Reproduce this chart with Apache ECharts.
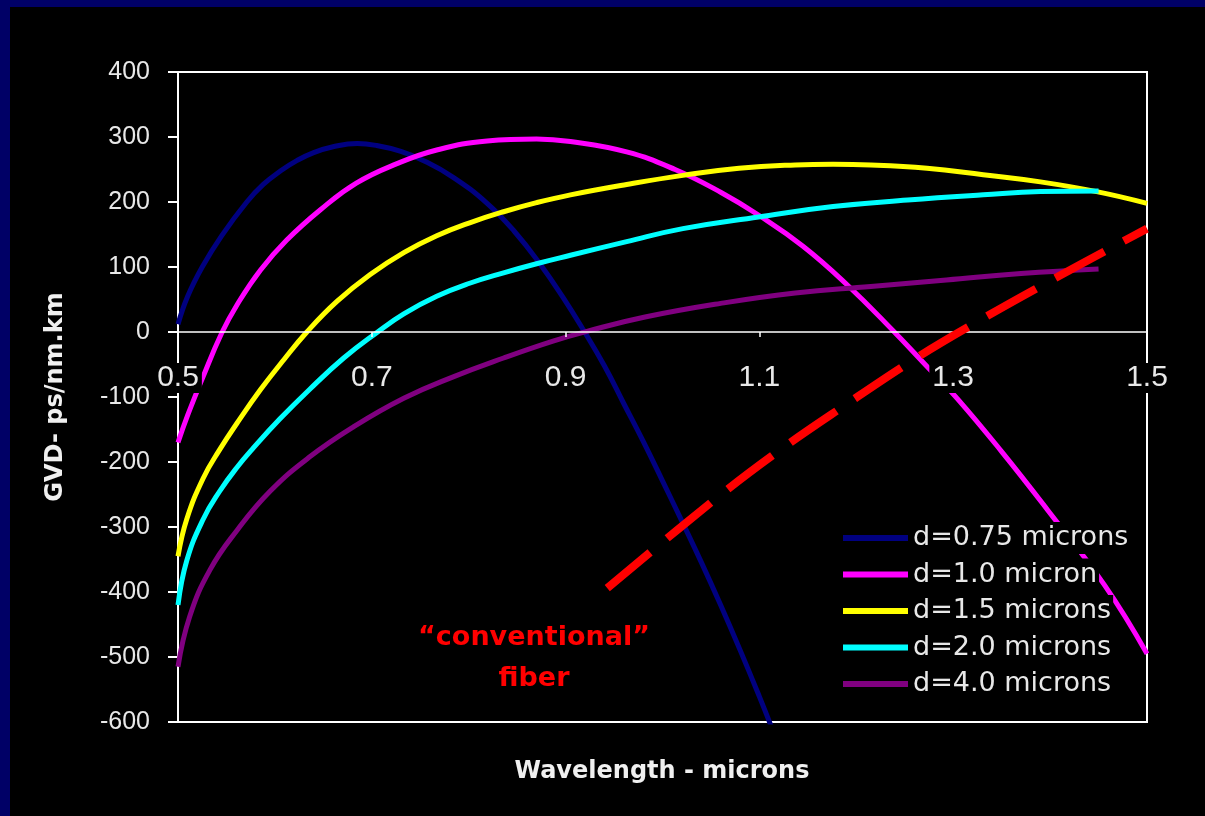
<!DOCTYPE html>
<html>
<head>
<meta charset="utf-8">
<script src="https://cdn.jsdelivr.net/npm/echarts@6/dist/echarts.min.js"></script>
<style>
  html, body { margin: 0; padding: 0; background: #000066; width: 1205px; height: 816px; overflow: hidden; }
  #chart { position: absolute; left: 10px; top: 7px; width: 1195px; height: 809px; background: #000; }
</style>
</head>
<body>
<div id="chart"></div>
<script>
// Group-velocity dispersion of a guide vs. wavelength, for several core diameters,
// with the dispersion of conventional fibre overlaid as a dashed red curve.

const seriesNames  = ['d=0.75 microns', 'd=1.0 micron', 'd=1.5 microns', 'd=2.0 microns', 'd=4.0 microns'];
const seriesColors = ['#000080', '#ff00ff', '#ffff00', '#00ffff', '#800080'];

// wavelength (microns) / GVD (ps/nm.km)
const wlD075  = [0.500, 0.510, 0.525, 0.545, 0.571, 0.588, 0.606, 0.623, 0.640, 0.660, 0.685, 0.705, 0.730, 0.753, 0.784, 0.819, 0.847, 0.874, 0.897, 0.918, 0.940, 0.960, 0.980, 1.000, 1.020, 1.040, 1.060, 1.080, 1.100, 1.112];
const gvdD075 = [12, 55, 100, 148, 200, 227, 248, 264, 276, 285, 290, 287, 278, 264, 238, 198, 155, 104, 54, 4, -52, -110, -168, -229, -291, -354, -420, -489, -561, -606];

const wlD10  = [0.500, 0.510, 0.525, 0.545, 0.561, 0.585, 0.612, 0.647, 0.684, 0.726, 0.767, 0.819, 0.870, 0.905, 0.963, 1.013, 1.060, 1.099, 1.145, 1.191, 1.238, 1.273, 1.304, 1.350, 1.397, 1.456, 1.500];
const gvdD10 = [-170, -128, -72, -2, 42, 95, 141, 188, 229, 259, 280, 294, 297, 293, 277, 250, 215, 180, 132, 72, 2, -53, -102, -184, -273, -389, -495];

const wlD15  = [0.500, 0.509, 0.526, 0.543, 0.561, 0.585, 0.609, 0.633, 0.664, 0.698, 0.733, 0.767, 0.801, 0.836, 0.870, 0.905, 0.963, 1.021, 1.079, 1.137, 1.176, 1.215, 1.273, 1.331, 1.390, 1.448, 1.500];
const gvdD15 = [-345, -288, -225, -181, -140, -89, -43, 0, 47, 88, 122, 148, 168, 185, 199, 211, 227, 241, 252, 257, 258, 257, 252, 242, 231, 216, 198];

const wlD20  = [0.500, 0.509, 0.526, 0.543, 0.561, 0.578, 0.605, 0.636, 0.671, 0.705, 0.733, 0.767, 0.801, 0.836, 0.870, 0.905, 0.963, 1.021, 1.099, 1.176, 1.253, 1.331, 1.390, 1.450];
const gvdD20 = [-420, -352, -288, -245, -208, -178, -134, -88, -40, -1, 28, 55, 75, 91, 105, 118, 139, 159, 177, 193, 203, 211, 216, 217];

const wlD40  = [0.500, 0.512, 0.533, 0.561, 0.595, 0.636, 0.681, 0.733, 0.784, 0.836, 0.887, 0.922, 0.982, 1.060, 1.137, 1.215, 1.293, 1.370, 1.450];
const gvdD40 = [-515, -438, -366, -305, -245, -192, -146, -102, -69, -40, -14, 1, 23, 44, 60, 70, 80, 90, 97];

const wlFiber  = [0.943, 1.052, 1.118, 1.188, 1.262, 1.324, 1.397, 1.471, 1.500];
const gvdFiber = [-394, -260, -185, -113, -40, 15, 76, 136, 159];

// axis ranges
const xMin = 0.5, xMax = 1.5, xStep = 0.2;
const yMin = -600, yMax = 400, yStep = 100;

const pairs = (xs, ys) => xs.map((x, i) => [x, ys[i]]);

const curves = [
  pairs(wlD075, gvdD075),
  pairs(wlD10, gvdD10),
  pairs(wlD15, gvdD15),
  pairs(wlD20, gvdD20),
  pairs(wlD40, gvdD40)
];

const labelColor = '#e8e8e8';

const series = curves.map((data, i) => ({
  name: seriesNames[i],
  type: 'line',
  data: data,
  smooth: 0.45,
  showSymbol: false,
  symbol: 'none',
  color: seriesColors[i],
  lineStyle: { color: seriesColors[i], width: 5 },
  z: 2 + i * 0.01
}));

series.push({
  name: 'conventional fiber',
  type: 'line',
  data: pairs(wlFiber, gvdFiber),
  smooth: 0.4,
  showSymbol: false,
  symbol: 'none',
  color: '#ff0000',
  lineStyle: { color: '#ff0000', width: 8, type: [56, 22], cap: 'butt' },
  z: 5
});

const chart = echarts.init(document.getElementById('chart'), null, { renderer: 'canvas' });

// plot box in container pixels
const gridTop = 65, gridBottom = 94, chartH = 809;
// the tick labels sit just under the zero line, 31px below it
const zeroLineY = gridTop + (yMax / (yMax - yMin)) * (chartH - gridTop - gridBottom);
const xLabelMargin = (zeroLineY + 31) - (chartH - gridBottom);

chart.setOption({
  animation: false,
  backgroundColor: '#000',
  grid: {
    left: 168, right: 58, top: gridTop, bottom: gridBottom,
    show: true, borderColor: '#ffffff', borderWidth: 2, backgroundColor: '#000'
  },
  xAxis: {
    type: 'value', min: xMin, max: xMax, interval: xStep, z: 3,
    axisLine: { show: true, onZero: true, lineStyle: { color: '#ffffff', width: 1.5 } },
    axisTick: { show: true, length: 5, lineStyle: { color: '#ffffff', width: 1.5 } },
    axisLabel: {
      margin: xLabelMargin, fontFamily: 'Liberation Sans', fontSize: 30, color: labelColor,
      backgroundColor: '#000', padding: [0, 3],
      formatter: v => v.toFixed(1)
    },
    splitLine: { show: false }
  },
  yAxis: {
    type: 'value', min: yMin, max: yMax, interval: yStep,
    name: 'GVD- ps/nm.km', nameLocation: 'middle', nameRotate: 90, nameGap: 110,
    nameTextStyle: { fontFamily: 'DejaVu Sans', fontWeight: 'bold', fontSize: 24, color: '#f0f0f0' },
    axisLine: { show: true, onZero: false, lineStyle: { color: '#ffffff', width: 2 } },
    axisTick: { show: true, length: 10, lineStyle: { color: '#ffffff', width: 2 } },
    axisLabel: { margin: 28, fontFamily: 'Liberation Sans', fontSize: 25, color: labelColor },
    splitLine: { show: false }
  },
  legend: {
    data: seriesNames,
    orient: 'vertical', left: 833, top: 515, padding: 0,
    itemGap: 4.5, itemWidth: 65, itemHeight: 6, icon: 'rect',
    selectedMode: false,
    textStyle: {
      fontFamily: 'DejaVu Sans', fontSize: 27, color: labelColor, lineHeight: 32,
      backgroundColor: '#000', padding: [0, 2, 0, 0]
    }
  },
  graphic: [
    {
      type: 'text', x: 652, y: 765, z: 10,
      style: {
        text: 'Wavelength - microns', font: 'bold 24px "DejaVu Sans"',
        fill: '#f0f0f0', align: 'center', verticalAlign: 'middle'
      }
    },
    {
      type: 'text', x: 524, y: 651, z: 10,
      style: {
        text: '\u201cconventional\u201d\nfiber', font: 'bold 27px "DejaVu Sans"',
        fill: '#ff0000', align: 'center', verticalAlign: 'middle', lineHeight: 41
      }
    }
  ],
  series: series
});
</script>
</body>
</html>
